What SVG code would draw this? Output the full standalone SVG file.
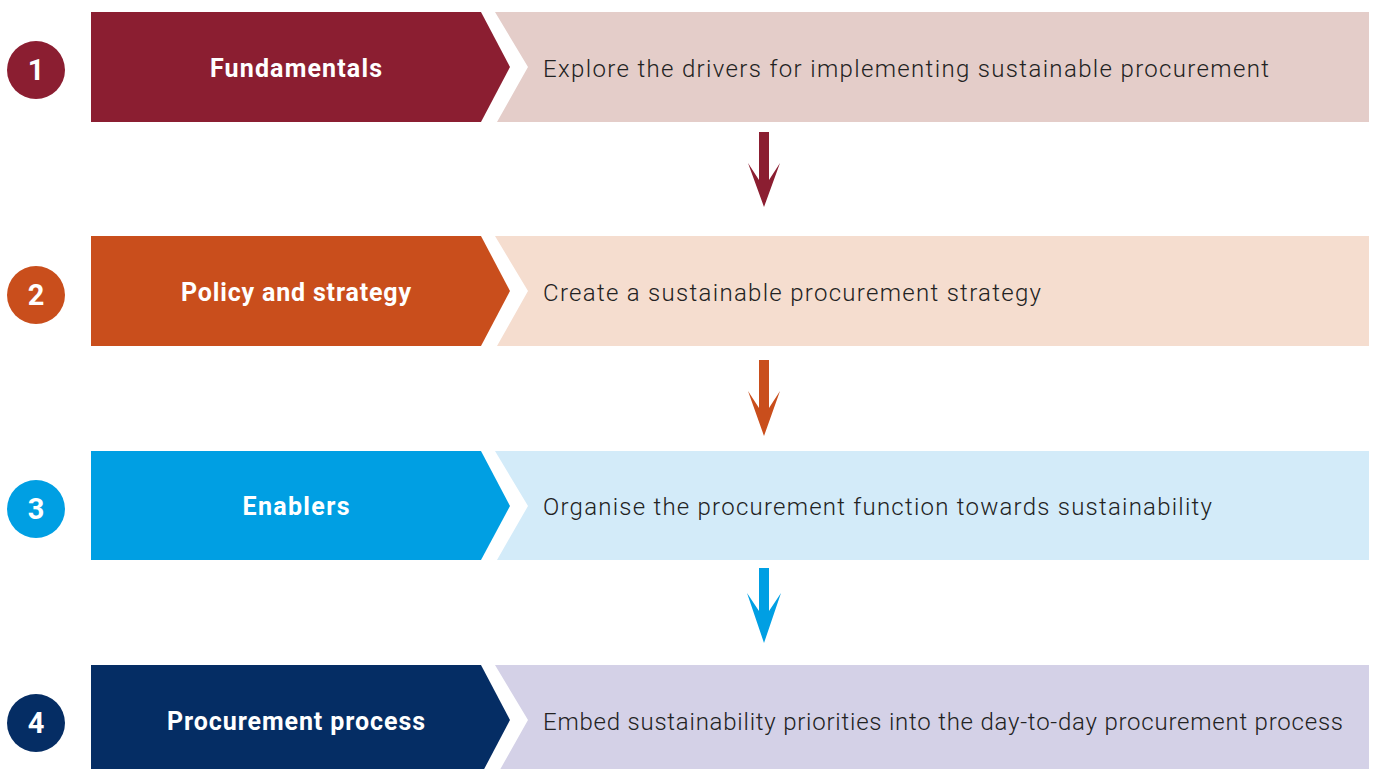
<svg xmlns="http://www.w3.org/2000/svg" width="1375" height="769" viewBox="0 0 1375 769">
<style>
.lbl{font-family:Roboto,"Liberation Sans",sans-serif;font-weight:bold;font-size:25px;fill:#fff;text-anchor:middle}
.num{font-family:Roboto,"Liberation Sans",sans-serif;font-weight:bold;font-size:29px;fill:#fff;text-anchor:middle}
.desc{font-family:Roboto,"Liberation Sans",sans-serif;font-weight:300;font-size:24px;fill:#222}
</style>
<rect width="1375" height="769" fill="#fff"/>
<g id="step1">
<circle cx="36" cy="70" r="29" fill="#8B1E31"/>
<text class="num" x="36" y="80">1</text>
<polygon points="91,12 481,12 510,67 481,122 91,122" fill="#8B1E31"/>
<polygon points="495,12 1369,12 1369,122 497,122 528,67" fill="#E4CDC9"/>
<text class="lbl" x="296" y="77" textLength="172" lengthAdjust="spacing">Fundamentals</text>
<text class="desc" x="543" y="77" textLength="726" lengthAdjust="spacing">Explore the drivers for implementing sustainable procurement</text>
</g>
<g id="step2">
<circle cx="36" cy="295" r="29" fill="#C94E1C"/>
<text class="num" x="36" y="305">2</text>
<polygon points="91,236 481,236 510,291 481,346 91,346" fill="#C94E1C"/>
<polygon points="495,236 1369,236 1369,346 497,346 528,291" fill="#F5DDCF"/>
<text class="lbl" x="296" y="301" textLength="230" lengthAdjust="spacing">Policy and strategy</text>
<text class="desc" x="543" y="301" textLength="498" lengthAdjust="spacing">Create a sustainable procurement strategy</text>
</g>
<g id="step3">
<circle cx="36" cy="509" r="29" fill="#009FE3"/>
<text class="num" x="36" y="519">3</text>
<polygon points="91,451 481,451 510,506 481,560 91,560" fill="#009FE3"/>
<polygon points="495,451 1369,451 1369,560 497,560 528,506" fill="#D3EBF9"/>
<text class="lbl" x="296" y="515" textLength="107" lengthAdjust="spacing">Enablers</text>
<text class="desc" x="543" y="515" textLength="669" lengthAdjust="spacing">Organise the procurement function towards sustainability</text>
</g>
<g id="step4">
<circle cx="36" cy="723" r="29" fill="#052D64"/>
<text class="num" x="36" y="733">4</text>
<polygon points="91,665 481,665 510,720 481,775 91,775" fill="#052D64"/>
<polygon points="495,665 1369,665 1369,775 497,775 528,720" fill="#D4D1E7"/>
<text class="lbl" x="296" y="730" textLength="258" lengthAdjust="spacing">Procurement process</text>
<text class="desc" x="543" y="730" textLength="800" lengthAdjust="spacing">Embed sustainability priorities into the day-to-day procurement process</text>
</g>
<g id="connectors">
<polygon points="759,132 769,132 769,180 780,163 764,207 748,163 759,180" fill="#8B1E31"/>
<polygon points="759,360 769,360 769,408 780,391 764,436 748,391 759,408" fill="#C94E1C"/>
<polygon points="759,568 769,568 769,611 781,593 764,643 747,593 759,611" fill="#009FE3"/>
</g>
</svg>
